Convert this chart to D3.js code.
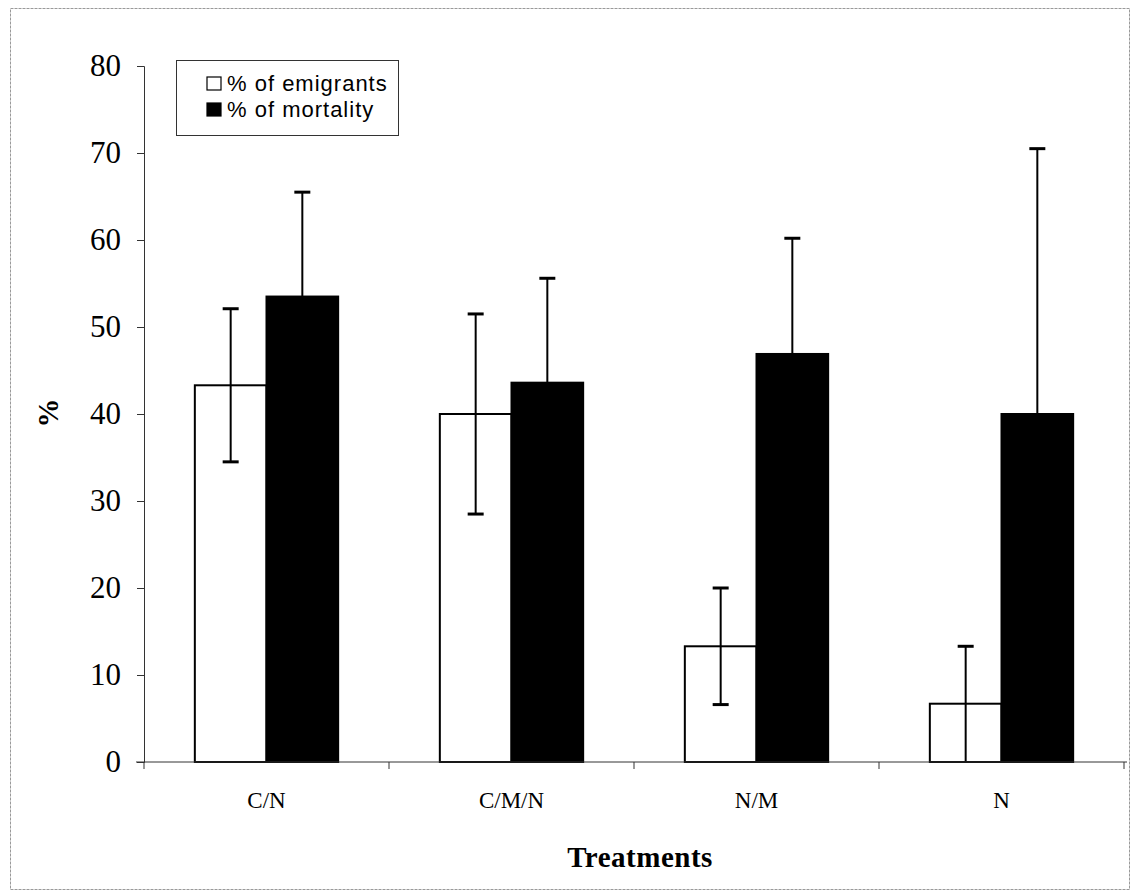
<!DOCTYPE html>
<html>
<head>
<meta charset="utf-8">
<script src="https://cdn.jsdelivr.net/npm/d3@7"></script>
<style>
  body { margin: 0; background: #fff; }
  svg { display: block; }
</style>
</head>
<body>
<div id="chart"></div>
<script>
// data
var treatments = ["C/N", "C/M/N", "N/M", "N"];
var emigrants = [43.3, 40.0, 13.3, 6.7];
var emigrantsErr = [8.8, 11.5, 6.7, 6.6];
var mortality = [53.5, 43.6, 46.9, 40.0];
var mortalityErr = [12.0, 12.0, 13.3, 30.5];
var yTicks = [0, 10, 20, 30, 40, 50, 60, 70, 80];
var seriesNames = ["% of emigrants", "% of mortality"];
var seriesFill = ["#fff", "#000"];

var W = 1132, H = 894;
var margin = { left: 144, right: 8, top: 66, bottom: 132 };
var serif = "'Liberation Serif', 'Times New Roman', serif";

var svg = d3.select("#chart").append("svg")
  .attr("width", W)
  .attr("height", H);

// figure frame
svg.append("rect")
  .attr("x", 10.5).attr("y", 8.5)
  .attr("width", 1119).attr("height", 881)
  .attr("fill", "none")
  .attr("stroke", "#999")
  .attr("stroke-dasharray", "3,1");

var x = d3.scaleBand()
  .domain(treatments)
  .range([margin.left, margin.left + 4 * 245]);

var y = d3.scaleLinear()
  .domain([0, 80])
  .range([H - margin.bottom, margin.top]);

var groupW = x.bandwidth() * 0.585;
var x1 = d3.scaleBand()
  .domain([0, 1])
  .range([0, groupW]);

var rows = treatments.map(function(t, i) {
  return [
    { t: t, s: 0, v: emigrants[i], e: emigrantsErr[i] },
    { t: t, s: 1, v: mortality[i], e: mortalityErr[i] }
  ];
});

var groups = svg.append("g").selectAll("g")
  .data(rows)
  .enter().append("g")
  .attr("transform", function(d) {
    return "translate(" + (x(d[0].t) + (x.bandwidth() - groupW) / 2) + ",0)";
  });

groups.selectAll("rect")
  .data(function(d) { return d; })
  .enter().append("rect")
  .attr("x", function(d) { return x1(d.s); })
  .attr("y", function(d) { return y(d.v); })
  .attr("width", x1.bandwidth())
  .attr("height", function(d) { return y(0) - y(d.v); })
  .attr("fill", function(d) { return seriesFill[d.s]; })
  .attr("stroke", "#000")
  .attr("stroke-width", 2);

// error bars
var cap = 8;
var eb = groups.selectAll(".eb")
  .data(function(d) { return d; })
  .enter().append("g")
  .attr("class", "eb")
  .attr("stroke", "#000")
  .attr("stroke-width", 2);

eb.append("line")
  .attr("x1", function(d) { return x1(d.s) + x1.bandwidth() / 2; })
  .attr("x2", function(d) { return x1(d.s) + x1.bandwidth() / 2; })
  .attr("y1", function(d) { return y(Math.max(0, d.v - d.e)); })
  .attr("y2", function(d) { return y(d.v + d.e); });

eb.append("line")
  .attr("x1", function(d) { return x1(d.s) + x1.bandwidth() / 2 - cap; })
  .attr("x2", function(d) { return x1(d.s) + x1.bandwidth() / 2 + cap; })
  .attr("y1", function(d) { return y(d.v + d.e); })
  .attr("y2", function(d) { return y(d.v + d.e); })
  .attr("stroke-width", 3);

eb.filter(function(d) { return d.s === 0 && d.v - d.e > 0.5; })
  .append("line")
  .attr("x1", function(d) { return x1(d.s) + x1.bandwidth() / 2 - cap; })
  .attr("x2", function(d) { return x1(d.s) + x1.bandwidth() / 2 + cap; })
  .attr("y1", function(d) { return y(d.v - d.e); })
  .attr("y2", function(d) { return y(d.v - d.e); })
  .attr("stroke-width", 3);

// axes
var yAxis = svg.append("g")
  .attr("transform", "translate(" + margin.left + ",0)")
  .call(d3.axisLeft(y).tickValues(yTicks).tickSize(7).tickPadding(16));

var xAxis = svg.append("g")
  .attr("transform", "translate(0," + y(0) + ")")
  .call(d3.axisBottom(x).tickSize(0).tickPadding(30));

// category separator ticks
xAxis.selectAll(".sep")
  .data(d3.range(treatments.length + 1))
  .enter().append("line")
  .attr("class", "sep")
  .attr("x1", function(i) { return margin.left + i * x.step(); })
  .attr("x2", function(i) { return margin.left + i * x.step(); })
  .attr("y1", 0).attr("y2", 7)
  .attr("stroke", "#333");

svg.selectAll(".domain").attr("stroke", "#333");
xAxis.select(".domain").attr("d", "M" + (margin.left - 8) + ",0H" + (margin.left + 4 * 245 + 3));
svg.selectAll(".tick line").attr("stroke", "#333");

yAxis.selectAll("text")
  .style("font-family", serif)
  .style("font-size", "31px")
  .attr("fill", "#000");

xAxis.selectAll("text")
  .style("font-family", serif)
  .style("font-size", "23px")
  .attr("fill", "#000");

// axis titles
svg.append("text")
  .attr("x", 640).attr("y", 867)
  .attr("text-anchor", "middle")
  .style("font-family", serif)
  .style("font-size", "29px")
  .style("font-weight", "bold")
  .style("letter-spacing", "0.5px")
  .text("Treatments");

svg.append("text")
  .attr("transform", "translate(58,413) rotate(-90)")
  .attr("text-anchor", "middle")
  .style("font-family", serif)
  .style("font-size", "29px")
  .style("font-weight", "bold")
  .text("%");

// legend
var legend = svg.append("g").attr("transform", "translate(176,60)");
legend.append("rect")
  .attr("x", 0.5).attr("y", 0.5)
  .attr("width", 222).attr("height", 75)
  .attr("fill", "#fff")
  .attr("stroke", "#333");

var li = legend.selectAll(".li")
  .data(seriesNames)
  .enter().append("g")
  .attr("transform", function(d, i) { return "translate(47," + (23 + i * 26) + ")"; });

li.append("rect")
  .attr("x", -16).attr("y", -6)
  .attr("width", 14).attr("height", 13)
  .attr("fill", function(d, i) { return seriesFill[i]; })
  .attr("stroke", "#000")
  .attr("stroke-width", 1.2);

li.append("text")
  .attr("x", 4).attr("y", 8)
  .style("font-family", "'Liberation Sans', Arial, sans-serif")
  .style("font-size", "22px")
  .style("letter-spacing", "1px")
  .text(function(d) { return d; });
</script>
</body>
</html>
